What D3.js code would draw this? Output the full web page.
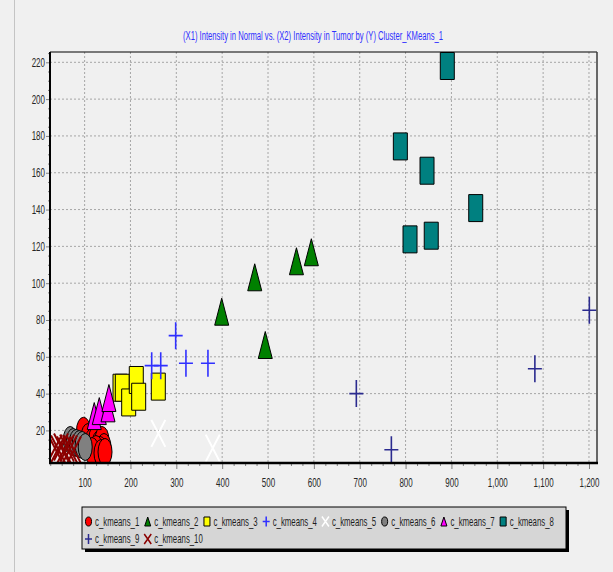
<!DOCTYPE html>
<html>
<head>
<meta charset="utf-8">
<script src="https://cdn.jsdelivr.net/npm/d3@7"></script>
<style>
  html, body { margin: 0; padding: 0; background: #f0f0f0; }
  svg { display: block; font-family: "Liberation Sans", Arial, sans-serif; }
</style>
</head>
<body>
<svg id="chart" width="613" height="572"></svg>
<script>
// Cluster members: [Intensity in Normal, Intensity in Tumor]
const seriesNames = ["c_kmeans_1", "c_kmeans_2", "c_kmeans_3", "c_kmeans_4", "c_kmeans_5",
                     "c_kmeans_6", "c_kmeans_7", "c_kmeans_8", "c_kmeans_9", "c_kmeans_10"];

const kmeans1 = [[97.5, 19.8], [107.4, 16.4], [116.1, 13.7], [124.8, 15.9], [131.4, 12.6], [137.9, 14.8],
                 [142.3, 11.0], [133.5, 9.4], [124.8, 9.9], [116.1, 8.8], [135.7, 7.7], [144.5, 8.3]];
const kmeans2 = [[399, 84.5], [471, 103.2], [494, 66.4], [562, 111.9], [594.5, 116.8]];
const kmeans3 = [[177.2, 43.2], [182.2, 43.2], [196.1, 35.2], [212.7, 47.4], [217.9, 38.3], [260.7, 43.8]];
const kmeans4 = [[246.3, 55.2], [266, 55.2], [298.6, 71.5], [321, 56.5], [369, 56.5]];
const kmeans5 = [[260.8, 18.4], [379.4, 10.4]];
const kmeans6 = [[68.6, 14.8], [75.1, 13.7], [81.7, 13.2], [88.2, 12.6], [94.7, 12.1], [101.3, 11.0]];
const kmeans7 = [[121, 27.8], [132, 30.5], [151, 32], [153, 37.6]];
const kmeans8 = [[891, 218], [788.6, 174.3], [846.8, 161.1], [953, 140.8], [809.7, 123.8], [856, 125.8]];
const kmeans9 = [[692.6, 40.0], [769, 9.5], [1082, 53.5], [1200.8, 85.3]];
const kmeans10 = [[35.4, 10.4], [42, 9.9], [48.5, 11.0], [55, 9.4], [61.6, 10.4], [68.1, 9.9], [76.9, 9.4]];

const seriesData = [kmeans1, kmeans2, kmeans3, kmeans4, kmeans5, kmeans6, kmeans7, kmeans8, kmeans9, kmeans10];

const xTicks = [100, 200, 300, 400, 500, 600, 700, 800, 900, 1000, 1100, 1200];
const yTicks = [20, 40, 60, 80, 100, 120, 140, 160, 180, 200, 220];

const titleText = "(X1) Intensity in Normal vs. (X2) Intensity in Tumor by (Y) Cluster_KMeans_1";

// Marker look for each cluster
const seriesStyle = [
  { shape: "ellipse",  fill: "#ff0000" },
  { shape: "triangle", fill: "#008000" },
  { shape: "rect",     fill: "#ffff00" },
  { shape: "plus",     stroke: "#3030ff" },
  { shape: "cross",    stroke: "#ffffff" },
  { shape: "ellipse",  fill: "#808080" },
  { shape: "triangle", fill: "#ff00ff" },
  { shape: "rect",     fill: "#008080" },
  { shape: "plus",     stroke: "#2b2b8f" },
  { shape: "cross",    stroke: "#8b0000" }
];

const svg = d3.select("#chart");
const W = 613, H = 572;
const plot = { left: 50, right: 597, top: 52, bottom: 463 };
const textScale = 0.64;
const legendPerRow = 8;

const x = d3.scaleLinear().domain([24.5, 1217.5]).range([plot.left, plot.right]);
const y = d3.scaleLinear().domain([2.3, 225.6]).range([plot.bottom, plot.top]);

function markerPath(shape, w, h) {
  const p = d3.path();
  const hw = w / 2, hh = h / 2;
  if (shape === "ellipse") {
    return `M${-hw},0A${hw},${hh} 0 1,0 ${hw},0A${hw},${hh} 0 1,0 ${-hw},0Z`;
  } else if (shape === "triangle") {
    p.moveTo(0, -hh); p.lineTo(hw, hh); p.lineTo(-hw, hh); p.closePath();
  } else if (shape === "rect") {
    p.rect(-hw, -hh, w, h);
  } else if (shape === "plus") {
    p.moveTo(-hw, 0); p.lineTo(hw, 0); p.moveTo(0, -hh); p.lineTo(0, hh);
  } else if (shape === "cross") {
    p.moveTo(-hw, -hh); p.lineTo(hw, hh); p.moveTo(hw, -hh); p.lineTo(-hw, hh);
  }
  return p.toString();
}

function styleMarker(sel, st, lineWidth) {
  if (st.fill) {
    sel.attr("fill", st.fill).attr("stroke", "#000").attr("stroke-width", 1);
  } else {
    sel.attr("fill", "none").attr("stroke", st.stroke).attr("stroke-width", lineWidth);
  }
}

// panel edge
svg.append("line").attr("x1", 14.5).attr("x2", 14.5).attr("y1", 0).attr("y2", H)
  .attr("stroke", "#c4c4c4").attr("stroke-width", 1);

// title
svg.append("text")
  .attr("x", 313).attr("y", 40)
  .attr("text-anchor", "middle")
  .attr("font-size", 12.5)
  .attr("fill", "#2f2fff")
  .attr("textLength", 260)
  .attr("lengthAdjust", "spacingAndGlyphs")
  .text(titleText);

// grid
const grid = svg.append("g");
grid.selectAll(".vg").data(xTicks).join("line")
  .attr("x1", d => x(d)).attr("x2", d => x(d))
  .attr("y1", plot.top).attr("y2", plot.bottom)
  .attr("stroke", "#a6a6a6").attr("stroke-dasharray", "2,2");
grid.selectAll(".hg").data(yTicks).join("line")
  .attr("x1", plot.left).attr("x2", plot.right)
  .attr("y1", d => y(d)).attr("y2", d => y(d))
  .attr("stroke", "#a6a6a6").attr("stroke-dasharray", "2,2");

// axes
const xMinor = d3.range(25, 1218, 25).filter(v => v % 100 !== 0);
const yMinor = d3.range(5, 226, 5).filter(v => v % 20 !== 0);

const gxMinor = svg.append("g").attr("transform", `translate(0,${plot.bottom})`)
  .call(d3.axisBottom(x).tickValues(xMinor).tickSize(3).tickFormat(""));
const gx = svg.append("g").attr("transform", `translate(0,${plot.bottom})`)
  .call(d3.axisBottom(x).tickValues(xTicks).tickSize(6).tickFormat(d3.format(",")));
const gyMinor = svg.append("g").attr("transform", `translate(${plot.left},0)`)
  .call(d3.axisLeft(y).tickValues(yMinor).tickSize(2).tickFormat(""));
const gy = svg.append("g").attr("transform", `translate(${plot.left},0)`)
  .call(d3.axisLeft(y).tickValues(yTicks).tickSize(4).tickFormat(d3.format("d")));

[gxMinor, gx, gyMinor, gy].forEach(g => {
  g.select(".domain").remove();
  g.selectAll(".tick line").attr("stroke", "#808080");
});
gx.selectAll("text")
  .attr("font-family", "Liberation Sans, Arial, sans-serif")
  .attr("font-size", 12.5).attr("fill", "#262626")
  .attr("y", 15).attr("transform", `scale(${textScale},1)`);
gy.selectAll("text")
  .attr("font-family", "Liberation Sans, Arial, sans-serif")
  .attr("font-size", 12.5).attr("fill", "#262626")
  .attr("x", -5 / textScale).attr("transform", `scale(${textScale},1)`);

// data marks
svg.append("clipPath").attr("id", "plotClip")
  .append("rect").attr("x", plot.left).attr("y", plot.top)
  .attr("width", plot.right - plot.left).attr("height", plot.bottom - plot.top);

const marks = svg.append("g").attr("clip-path", "url(#plotClip)");
seriesData.forEach((pts, i) => {
  const st = seriesStyle[i];
  const lw = st.shape === "cross" ? 2 : 1.6;
  const sel = marks.append("g").selectAll("path").data(pts).join("path")
    .attr("transform", d => `translate(${x(d[0])},${y(d[1])})`)
    .attr("d", markerPath(st.shape, 14, 27));
  styleMarker(sel, st, lw);
});

// frame
svg.append("line").attr("x1", plot.left).attr("x2", plot.right).attr("y1", plot.top).attr("y2", plot.top)
  .attr("stroke", "#000").attr("stroke-width", 1);
svg.append("line").attr("x1", plot.right).attr("x2", plot.right).attr("y1", plot.top).attr("y2", plot.bottom)
  .attr("stroke", "#3a3a3a").attr("stroke-width", 1.5);
svg.append("line").attr("x1", plot.left).attr("x2", plot.left).attr("y1", plot.top).attr("y2", plot.bottom + 1)
  .attr("stroke", "#000").attr("stroke-width", 2);
svg.append("line").attr("x1", plot.left - 1).attr("x2", plot.right + 1).attr("y1", plot.bottom).attr("y2", plot.bottom)
  .attr("stroke", "#000").attr("stroke-width", 2.5);

// legend
const legend = svg.append("g");
const lg = { x: 82, y: 507, w: 484, h: 42 };
legend.append("rect").attr("x", lg.x + 3).attr("y", lg.y + 3).attr("width", lg.w).attr("height", lg.h).attr("fill", "#000");
legend.append("rect").attr("x", lg.x).attr("y", lg.y).attr("width", lg.w).attr("height", lg.h)
  .attr("fill", "#d6d6d6").attr("stroke", "#000").attr("stroke-width", 1);

const legendScale = 0.625;
let cx = 88.5;
const rowY = [521.5, 539];
seriesNames.forEach((name, i) => {
  const st = seriesStyle[i];
  const row = Math.floor(i / legendPerRow);
  if (i % legendPerRow === 0) cx = 88.5;
  const cy = rowY[row];
  const t = legend.append("text")
    .attr("font-size", 12.5).attr("fill", "#1e1e1e")
    .attr("dy", "0.35em")
    .attr("transform", `translate(${cx + 6.5},${cy}) scale(${legendScale},1)`)
    .text(name);
  const w = t.node().getComputedTextLength() * legendScale;
  const m = legend.append("path")
    .attr("transform", `translate(${cx},${cy})`)
    .attr("d", markerPath(st.shape, st.fill ? 6 : 7, st.fill ? 9 : 10));
  styleMarker(m, st, 1.5);
  cx += 6.5 + w + 8.5;
});
</script>
</body>
</html>
